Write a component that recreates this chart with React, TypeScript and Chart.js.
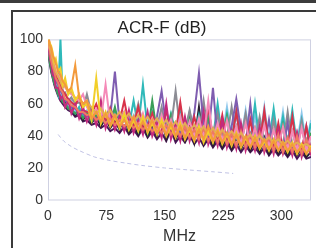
import { useEffect, useRef } from 'react';
import { Chart, registerables } from 'chart.js';

Chart.register(...registerables);

const FREQ = [1, 2, 4, 6, 8, 10, 13, 16, 19, 22, 26, 30, 35, 40, 45, 50,
  56, 62, 68, 74, 80, 86, 92, 98, 104, 110, 116, 122, 128, 134, 140, 146,
  152, 158, 164, 170, 176, 182, 188, 194, 200, 206, 212, 218, 224, 230, 236, 242,
  248, 254, 260, 266, 272, 278, 284, 290, 296, 302, 308, 314, 320, 326, 332, 338];

const PAIR_PURPLE = [92, 86, 80, 76, 72, 69, 65, 62, 60, 58, 56, 55, 52, 53, 49, 50,
  47, 48, 45, 47, 43, 45, 42, 46, 41, 44, 40, 45, 39, 43, 38, 42,
  37, 44, 36, 40, 36, 41, 35, 39, 34, 38, 33, 37, 32, 36, 31, 35,
  30, 34, 30, 33, 29, 33, 28, 32, 28, 31, 27, 31, 26, 30, 26, 27];
const PAIR_BLACK = [95, 88, 82, 79, 74, 72, 67, 66, 61, 62, 57, 58, 53, 56, 50, 54,
  48, 52, 46, 51, 45, 49, 44, 52, 42, 47, 41, 48, 40, 46, 40, 52,
  38, 45, 38, 44, 37, 47, 36, 58, 35, 42, 34, 41, 33, 40, 32, 39,
  32, 38, 31, 37, 30, 39, 29, 36, 29, 35, 28, 34, 28, 33, 27, 30];
const PAIR_MAGENTA = [97, 90, 85, 78, 77, 70, 70, 63, 65, 58, 62, 54, 60, 51, 58, 49,
  56, 47, 62, 45, 54, 44, 52, 43, 56, 42, 50, 41, 55, 40, 48, 39,
  60, 38, 47, 37, 52, 37, 46, 36, 55, 35, 44, 34, 50, 33, 43, 32,
  48, 31, 41, 31, 46, 30, 40, 29, 44, 29, 38, 28, 42, 27, 37, 28];
const PAIR_ORANGE = [100, 97, 95, 90, 88, 85, 80, 78, 74, 72, 68, 70, 84, 64, 60, 62,
  51, 55, 49, 54, 47, 53, 46, 50, 45, 52, 44, 49, 43, 50, 42, 47,
  41, 48, 40, 46, 39, 45, 38, 44, 38, 46, 37, 43, 36, 42, 35, 41,
  34, 40, 33, 39, 33, 38, 32, 37, 31, 36, 31, 35, 30, 34, 29, 33];
const PAIR_YELLOW = [100, 98, 96, 92, 86, 88, 80, 82, 72, 76, 66, 70, 62, 66, 58, 60,
  50, 76, 48, 55, 46, 52, 45, 54, 44, 50, 43, 52, 42, 48, 41, 50,
  40, 46, 39, 48, 38, 44, 37, 46, 36, 43, 36, 44, 35, 41, 34, 42,
  33, 39, 33, 40, 32, 37, 31, 38, 31, 36, 30, 36, 29, 35, 29, 34];
const PAIR_PINK = [96, 94, 90, 86, 84, 80, 78, 76, 72, 70, 68, 66, 64, 62, 66, 58,
  53, 57, 50, 72, 48, 53, 47, 55, 46, 52, 45, 54, 44, 51, 43, 53,
  42, 50, 41, 52, 40, 49, 40, 51, 39, 62, 38, 48, 37, 50, 36, 46,
  35, 48, 35, 45, 34, 47, 33, 44, 33, 46, 32, 43, 31, 45, 31, 40];
const PAIR_TEAL = [90, 93, 82, 78, 73, 71, 66, 100, 62, 60, 58, 57, 54, 58, 52, 55,
  50, 52, 49, 54, 47, 55, 46, 52, 46, 62, 45, 72, 44, 55, 43, 56,
  42, 54, 42, 58, 41, 55, 40, 53, 40, 56, 39, 60, 38, 54, 38, 56,
  37, 52, 37, 60, 36, 54, 36, 57, 35, 52, 35, 56, 34, 50, 34, 48];
const PAIR_GREEN = [91, 87, 81, 77, 73, 70, 66, 64, 61, 60, 57, 56, 54, 55, 51, 54,
  49, 53, 48, 52, 47, 58, 45, 51, 44, 50, 43, 52, 42, 62, 42, 50,
  41, 53, 40, 49, 39, 51, 39, 48, 38, 50, 37, 47, 37, 52, 36, 46,
  35, 49, 35, 45, 34, 48, 33, 44, 33, 47, 32, 43, 32, 46, 31, 42];
const PAIR_LIGHTBLUE = [93, 89, 84, 80, 76, 73, 68, 67, 64, 63, 60, 62, 56, 57, 54, 56,
  52, 54, 50, 53, 49, 52, 48, 51, 47, 53, 46, 50, 45, 52, 44, 55,
  44, 52, 43, 56, 42, 53, 42, 50, 41, 54, 40, 52, 40, 58, 39, 53,
  38, 56, 38, 52, 37, 58, 36, 52, 36, 55, 35, 51, 35, 54, 34, 50];
const PAIR_VIOLET = [96, 92, 86, 81, 78, 75, 72, 68, 66, 62, 61, 58, 57, 55, 54, 52,
  53, 50, 51, 48, 52, 80, 48, 46, 50, 45, 49, 44, 48, 43, 52, 68,
  46, 42, 48, 41, 50, 40, 54, 79, 46, 39, 70, 38, 48, 37, 46, 63,
  44, 35, 60, 34, 44, 33, 50, 32, 42, 31, 48, 30, 42, 30, 46, 29];
const PAIR_SALMON = [98, 94, 87, 83, 80, 76, 73, 69, 67, 63, 62, 59, 58, 55, 55, 53,
  54, 50, 52, 48, 51, 47, 50, 46, 49, 45, 48, 44, 47, 43, 46, 42,
  47, 41, 45, 40, 46, 39, 44, 38, 45, 37, 43, 36, 44, 35, 42, 34,
  43, 33, 41, 33, 42, 32, 40, 31, 41, 30, 39, 30, 40, 29, 38, 30];
const PAIR_RED = [95, 97, 89, 84, 82, 78, 74, 72, 68, 66, 63, 61, 59, 64, 56, 55,
  54, 60, 51, 50, 57, 48, 49, 62, 47, 46, 58, 45, 45, 54, 44, 43,
  56, 42, 42, 61, 41, 41, 52, 40, 40, 58, 39, 38, 53, 37, 37, 55,
  36, 35, 50, 34, 34, 56, 33, 33, 48, 32, 32, 52, 31, 31, 46, 30];
const PAIR_GRAY = [93, 90, 86, 80, 79, 74, 72, 70, 66, 67, 62, 64, 60, 61, 57, 66,
  54, 56, 53, 52, 58, 50, 50, 55, 49, 48, 60, 47, 46, 52, 45, 58,
  44, 45, 68, 43, 43, 56, 42, 42, 62, 41, 40, 54, 39, 39, 58, 38,
  38, 54, 37, 37, 52, 36, 35, 50, 35, 34, 55, 34, 33, 49, 33, 32];
const PAIR_TAN = [100, 95, 92, 88, 83, 80, 77, 74, 70, 72, 66, 68, 63, 64, 60, 61,
  58, 54, 57, 52, 56, 51, 55, 50, 54, 49, 53, 48, 52, 47, 51, 46,
  50, 45, 49, 44, 48, 43, 47, 42, 46, 41, 45, 40, 44, 40, 43, 39,
  42, 38, 41, 37, 40, 37, 39, 36, 38, 35, 37, 34, 36, 34, 35, 33];

const LIMIT_FREQ = [13, 20, 30, 40, 60, 80, 100, 120, 150, 180, 210, 238];
const LIMIT_DB = [41, 37, 33.5, 31, 27, 24.8, 23.2, 21.8, 20.2, 19, 17.9, 16.8];

const X_TICKS = [0, 75, 150, 225, 300];
const Y_TICKS = [0, 20, 40, 60, 80, 100];

// first entry is drawn on top
const SERIES: [string, number[], string][] = [
  ['Pair 1', PAIR_ORANGE, '#f39a3c'],
  ['Pair 2', PAIR_YELLOW, '#f2cf2a'],
  ['Pair 3', PAIR_TAN, '#e3ad55'],
  ['Pair 4', PAIR_SALMON, '#ee7a62'],
  ['Pair 5', PAIR_PINK, '#f58ab8'],
  ['Pair 6', PAIR_MAGENTA, '#c42a7c'],
  ['Pair 7', PAIR_RED, '#d8324a'],
  ['Pair 8', PAIR_VIOLET, '#7f5db0'],
  ['Pair 9', PAIR_GRAY, '#8c8c94'],
  ['Pair 10', PAIR_GREEN, '#3a9e58'],
  ['Pair 11', PAIR_TEAL, '#2fb9b9'],
  ['Pair 12', PAIR_LIGHTBLUE, '#8fc8ec'],
  ['Pair 13', PAIR_BLACK, '#2a2030'],
  ['Pair 14', PAIR_PURPLE, '#4a1458'],
];

const FONT = 'Arial, "Liberation Sans", sans-serif';

const frame = {
  id: 'plotFrame',
  beforeDatasetsDraw(chart: any) {
    const { ctx, chartArea: a } = chart;
    ctx.save();
    ctx.strokeStyle = '#cfd1e2';
    ctx.lineWidth = 1;
    ctx.strokeRect(a.left + 0.5, a.top + 0.5, a.right - a.left - 1, a.bottom - a.top - 1);
    ctx.restore();
  },
};

export default function App() {
  const ref = useRef<HTMLCanvasElement>(null);
  useEffect(() => {
    const datasets: any[] = SERIES.map(([label, vals, color]) => ({
      label,
      data: FREQ.map((f, i) => ({ x: f, y: vals[i] })),
      borderColor: color,
      borderWidth: 2,
      pointRadius: 0,
      tension: 0,
      fill: false,
    }));
    datasets.push({
      label: 'Limit',
      data: LIMIT_FREQ.map((f, i) => ({ x: f, y: LIMIT_DB[i] })),
      borderColor: '#c0c2e4',
      borderWidth: 1,
      borderDash: [4, 3],
      pointRadius: 0,
      tension: 0.3,
      fill: false,
    });
    const chart = new Chart(ref.current!, {
      type: 'line',
      data: { datasets },
      plugins: [frame],
      options: {
        animation: false,
        responsive: false,
        layout: { padding: { left: 0, right: 5, top: 0, bottom: 0 } },
        plugins: {
          legend: { display: false },
          tooltip: { enabled: false },
          title: {
            display: true,
            text: 'ACR-F (dB)',
            color: '#222',
            font: { family: FONT, size: 17, weight: 'normal' },
            padding: { top: 6, bottom: 1 },
          },
        },
        scales: {
          x: {
            type: 'linear',
            min: 0,
            max: 338,
            afterBuildTicks: (axis: any) => { axis.ticks = X_TICKS.map((v) => ({ value: v })); },
            afterFit: (axis: any) => { axis.height = 47.5; },
            grid: { display: false, drawTicks: false },
            border: { display: false },
            ticks: { color: '#333', font: { family: FONT, size: 14 }, padding: 7, maxRotation: 0 },
            title: {
              display: true,
              text: 'MHz',
              color: '#333',
              font: { family: FONT, size: 16 },
              padding: { top: 0, bottom: 2 },
            },
          },
          y: {
            min: 0,
            max: 100,
            afterBuildTicks: (axis: any) => { axis.ticks = Y_TICKS.map((v) => ({ value: v })); },
            afterFit: (axis: any) => { axis.width = 35; },
            grid: { display: false, drawTicks: false },
            border: { display: false },
            ticks: { color: '#333', font: { family: FONT, size: 14 }, padding: 5 },
          },
        },
      } as any,
    });
    return () => chart.destroy();
  }, []);
  return (
    <div style={{ position: 'fixed', left: 0, top: 0, width: 316, height: 248, overflow: 'hidden', background: '#fff' }}>
      <div style={{ position: 'absolute', left: 0, top: 0, width: 316, height: 3, background: '#3c3c3c' }} />
      <div style={{ position: 'absolute', left: 11, top: 10, width: 400, height: 400, border: '2px solid #3a3a3a', boxSizing: 'border-box' }} />
      <canvas ref={ref} width={303} height={236} style={{ position: 'absolute', left: 13, top: 12, width: 303, height: 236 }} />
    </div>
  );
}
